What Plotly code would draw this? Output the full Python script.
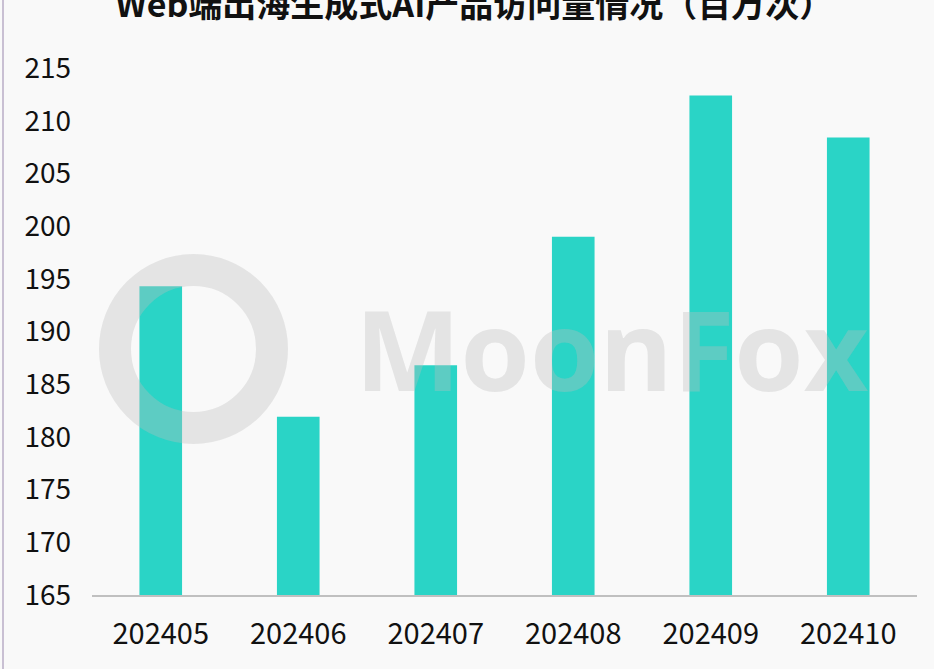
import plotly.graph_objects as go

months = ["202405", "202406", "202407", "202408", "202409", "202410"]
visits = [194.3, 181.9, 186.8, 199.0, 212.4, 208.4]
y_ticks = [165, 170, 175, 180, 185, 190, 195, 200, 205, 210, 215]
title_text = "Web端出海生成式AI产品访问量情况（百万次）"

FONT = "Noto Sans CJK SC"
BG = "#f9f9f9"

fig = go.Figure()
fig.add_trace(go.Bar(
    x=months, y=visits,
    marker=dict(color="#2ad4c6", line=dict(width=0)),
    width=0.31,
))

fig.update_layout(
    width=934, height=669,
    paper_bgcolor=BG, plot_bgcolor=BG,
    margin=dict(l=92, r=17, t=68, b=74),
    showlegend=False,
    font=dict(family=FONT, color="#111111"),
    title=dict(text="<b>" + title_text + "</b>", x=0.508, xanchor="center",
               y=0.9925, yref="container", yanchor="middle",
               font=dict(size=34, family=FONT, color="#111111")),
    xaxis=dict(type="category", showgrid=False, zeroline=False,
               showline=True, linecolor="#c0c0c0", linewidth=1.5,
               ticks="", tickfont=dict(size=29, family=FONT, color="#111111"),
               ticklabelstandoff=12),
    yaxis=dict(range=[165, 215], tickvals=y_ticks, showgrid=False,
               zeroline=False, showline=False, ticks="",
               tickfont=dict(size=28, family=FONT, color="#111111"),
               ticklabelstandoff=20),
)

# watermark
fig.add_annotation(text="<b>MoonFox</b>", xref="paper", yref="paper",
                   x=0.63, y=0.47, xanchor="center", yanchor="middle",
                   showarrow=False,
                   font=dict(size=112, family="Open Sans", color="rgba(190,190,190,0.35)"))
fig.add_shape(type="circle", xref="paper", yref="paper",
              x0=(115 - 92) / 825, x1=(272 - 92) / 825,
              y0=(595 - 428) / 527, y1=(595 - 270) / 527,
              line=dict(color="rgba(190,190,190,0.35)", width=32),
              fillcolor="rgba(0,0,0,0)", layer="above")
# left border line
fig.add_shape(type="line", xref="paper", yref="paper",
              x0=(3 - 92) / 825, x1=(3 - 92) / 825, y0=-74 / 527, y1=(669 - 74) / 527 + 0.2,
              line=dict(color="#c9c0d3", width=2))

fig.write_html("out.html", config={"displayModeBar": False},
               post_script="document.body.style.margin='0';document.body.style.padding='0';")
